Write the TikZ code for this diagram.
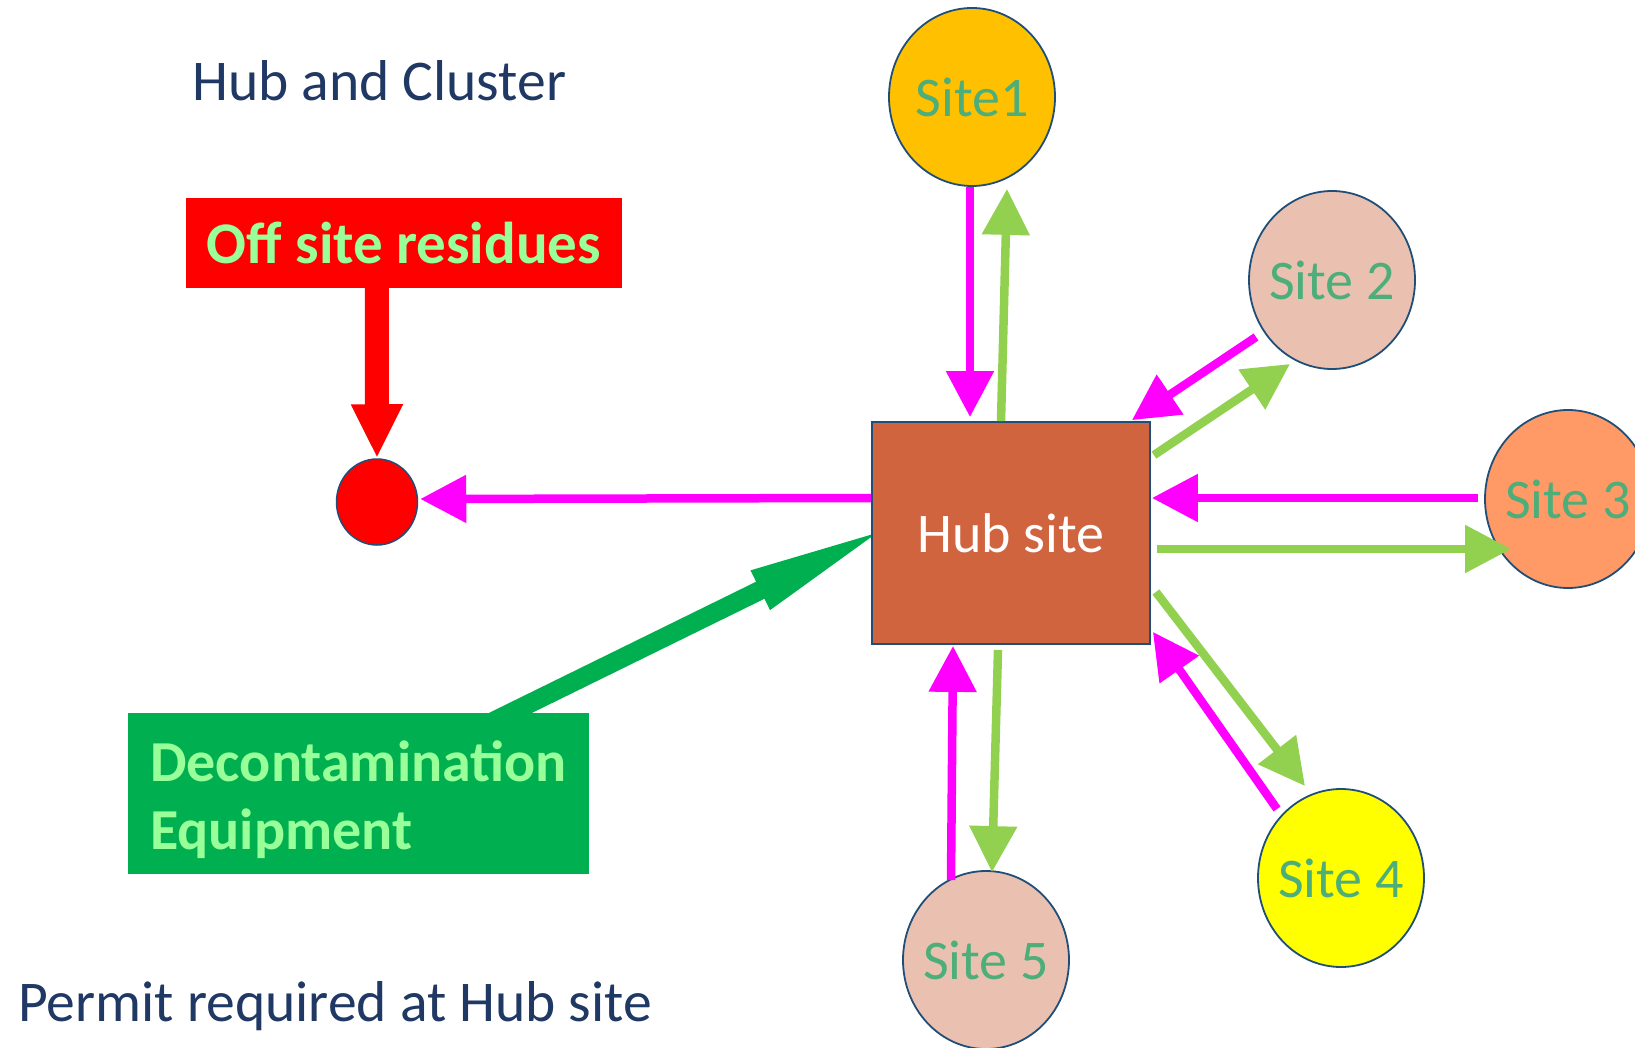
\documentclass[tikz,border=0pt]{standalone}
\usepackage{fontspec}
\setmainfont{Carlito}
\usetikzlibrary{shapes.geometric,arrows.meta,calc}
\definecolor{sitetext}{HTML}{4DAE7A}
\definecolor{siteborder}{HTML}{1F4E79}
\definecolor{peach}{HTML}{EAC1B0}
\definecolor{orangeS}{HTML}{FF9966}
\definecolor{goldS}{HTML}{FFC000}
\definecolor{yellowS}{HTML}{FFFF00}
\definecolor{hubfill}{HTML}{CF643F}
\definecolor{navytext}{HTML}{203864}
\definecolor{magentaA}{HTML}{FF00FF}
\definecolor{limeA}{HTML}{92D050}
\definecolor{darkgreenA}{HTML}{00B050}
\definecolor{paletext}{HTML}{99FF99}
\definecolor{redbox}{HTML}{FF0000}
\newcommand{\zw}[1]{\makebox[0pt]{#1}}
\pgfdeclarelayer{bg}
\pgfsetlayers{bg,main}
\tikzset{
  site/.style={ellipse, draw=siteborder, line width=1.8pt, minimum width=166pt, minimum height=178pt,
    inner sep=0pt, font=\fontsize{56}{60}\selectfont, text=sitetext},
  hubbox/.style={rectangle, draw=siteborder, line width=1.8pt, fill=hubfill, minimum width=278pt,
    minimum height=222pt, inner sep=0pt, font=\fontsize{56}{60}\selectfont, text=white},
  dotnode/.style={ellipse, draw=siteborder, line width=1.5pt, fill=redbox, minimum width=81pt,
    minimum height=86pt, inner sep=0pt},
  offbox/.style={rectangle, fill=redbox, minimum width=436pt, minimum height=90pt, inner sep=0pt,
    font=\bfseries\fontsize{59}{60}\selectfont, text=paletext},
  deconbox/.style={rectangle, fill=darkgreenA, minimum width=461pt, minimum height=161pt, inner sep=0pt,
    align=left, font=\bfseries\fontsize{58}{68}\selectfont, text=paletext},
  plaintext/.style={inner sep=0pt, font=\fontsize{57.6}{60}\selectfont, text=navytext},
  magarrow/.style={draw=magentaA, line width=8.5pt, -{Triangle[length=46pt,width=46pt]}},
  limearrow/.style={draw=limeA, line width=8.5pt, -{Triangle[length=46pt,width=46pt]}},
  redarrow/.style={draw=redbox, line width=24pt, -{Triangle[length=54pt,width=48pt]}},
  greenarrow/.style={draw=darkgreenA, line width=19pt, -{Triangle[length=148pt,width=38pt]}},
}
\begin{document}
\begin{tikzpicture}[x=1pt,y=-1pt]
\begin{pgfonlayer}{bg}
\fill[white] (0,0) rectangle (1635,1048);
\end{pgfonlayer}
\useasboundingbox (0,0) rectangle (1635,1048);
\clip (0,0) rectangle (1635,1048);

% texts
\node[plaintext, anchor=base west] (title) at (192,101) {Hub and Cluster};
\node[plaintext, anchor=base west] (permit) at (18,1021) {Permit required at Hub site};

% boxes
\node[offbox] (off) at (404,243) {Off site residues};
\node[deconbox] (decon) at (358.5,793.5) {\\[-14pt]Decontamination\\Equipment};
\node[dotnode] (dot) at (377,502) {};

% hub and sites
\node[hubbox] (hub) at (1011,533) {Hub site};
\node[site, fill=goldS] (s1) at (972,97) {\zw{Site1}};
\node[site, fill=peach] (s2) at (1332,280) {\zw{Site 2}};
\node[site, fill=orangeS] (s3) at (1568,499) {\zw{Site 3}};
\node[site, fill=yellowS] (s4) at (1341,878) {\zw{Site 4}};
\node[site, fill=peach] (s5) at (986,960) {\zw{Site 5}};

% connectors
\draw[magarrow] ($(s1.south)+(-2,0)$) -- ($(hub.north)+(-41,-4)$);
\draw[limearrow] ($(hub.north)+(-10,0)$) -- ($(s1.south)+(35,2)$);

\draw[magarrow] ($(s2.center)+(-76,57)$) -- ($(hub.north east)+(-19,-1)$);
\draw[limearrow] ($(hub.north east)+(3,34)$) -- ($(s2.center)+(-42,84)$);

\draw[magarrow] ($(s3.west)+(-6,-1)$) -- ($(hub.east)+(1,-35)$);
\draw[limearrow] ($(hub.east)+(6,16)$) -- ($(s3.west)+(27,50)$);

\draw[limearrow] ($(hub.east)+(5,59)$) -- ($(s4.center)+(-36,-92)$);
\draw[magarrow] ($(s4.center)+(-64,-69)$) -- ($(hub.south east)+(2,-13)$);

\draw[magarrow] ($(s5.center)+(-35,-80)$) -- ($(hub.south)+(-58,1)$);
\draw[limearrow] ($(hub.south)+(-13,5)$) -- ($(s5.north)+(6,2)$);

\draw[magarrow] ($(hub.west)+(0,-35)$) -- ($(dot.east)+(2,-3)$);
\draw[redarrow] ($(off.south west)+(191,0)$) -- (dot.north);
\begin{pgfonlayer}{bg}
\draw[greenarrow] ($(decon.north)+(111.5,20)$) -- ($(hub.west)+(22,-8)$);
\end{pgfonlayer}
\end{tikzpicture}
\end{document}
